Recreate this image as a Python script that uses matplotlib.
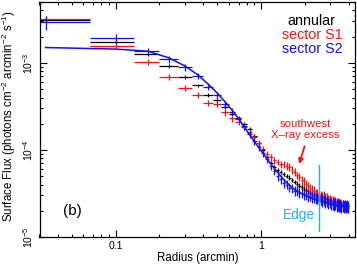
import matplotlib
matplotlib.use("Agg")
import matplotlib.pyplot as plt
import numpy as np
from matplotlib.ticker import FixedLocator, FixedFormatter, LogLocator, NullFormatter

plt.rcParams["font.family"] = ["Liberation Sans", "DejaVu Sans"]
plt.rcParams["mathtext.fontset"] = "custom"
plt.rcParams["mathtext.rm"] = "Liberation Sans"
plt.rcParams["mathtext.it"] = "Liberation Sans:italic"
plt.rcParams["mathtext.bf"] = "Liberation Sans:bold"

# bin centres in arcsec (4 arcsec wide annuli)
radius_arcsec = [2, 6, 10, 14, 18, 22, 26, 30, 34, 38, 42, 46, 50, 54, 58,
                 62, 66, 70, 74, 78, 82, 86, 90, 94, 98, 102, 106, 110, 114, 118,
                 122, 126, 130, 134, 138, 142, 146, 150, 154, 158, 162, 166, 170, 174, 178,
                 182, 186, 190, 194, 198, 202, 206, 210, 214, 218, 222, 226, 230, 234, 238]
bin_width_arcsec = 4.0

flux_annular = [3.09e-3, 1.74e-3, 1.25e-3, 9.2e-4, 6.9e-4, 5.5e-4, 4.3e-4, 3.7e-4, 3.1e-4, 2.6e-4,
                2.3e-4, 2.0e-4, 1.75e-4, 1.45e-4, 1.2e-4, 1.0e-4, 8.4e-5, 7.1e-5, 6.4e-5, 5.9e-5,
                5.6e-5, 5.3e-5, 5.0e-5, 4.8e-5, 4.5e-5, 4.3e-5, 4.1e-5, 3.9e-5, 3.75e-5, 3.6e-5,
                3.45e-5, 3.35e-5, 3.2e-5, 3.15e-5, 3.05e-5, 3.0e-5, 2.95e-5, 2.9e-5, 2.88e-5, 2.8e-5,
                2.78e-5, 2.72e-5, 2.7e-5, 2.64e-5, 2.62e-5, 2.61e-5, 2.56e-5, 2.55e-5, 2.5e-5, 2.5e-5,
                2.46e-5, 2.47e-5, 2.43e-5, 2.42e-5, 2.4e-5, 2.38e-5, 2.38e-5, 2.35e-5, 2.36e-5, 2.34e-5]
err_annular = [0.06, 0.05, 0.05, 0.05, 0.05, 0.05, 0.05, 0.05, 0.05, 0.05,
               0.05, 0.05, 0.05, 0.05, 0.05, 0.05, 0.05, 0.05, 0.06, 0.06,
               0.06, 0.06, 0.06, 0.06, 0.06, 0.06, 0.06, 0.06, 0.07, 0.07,
               0.07, 0.07, 0.07, 0.07, 0.07, 0.07, 0.07, 0.07, 0.08, 0.08,
               0.08, 0.08, 0.08, 0.08, 0.08, 0.08, 0.08, 0.08, 0.08, 0.08,
               0.08, 0.08, 0.08, 0.08, 0.08, 0.08, 0.08, 0.08, 0.08, 0.08]

flux_s1 = [3.18e-3, 1.57e-3, 1.03e-3, 6.9e-4, 5.2e-4, 4.3e-4, 3.5e-4, 3.35e-4, 2.7e-4, 2.3e-4,
           2.1e-4, 1.84e-4, 1.6e-4, 1.4e-4, 1.2e-4, 1.03e-4, 9.0e-5, 8.2e-5, 7.6e-5, 7.3e-5,
           6.9e-5, 6.9e-5, 6.6e-5, 6.4e-5, 5.9e-5, 5.6e-5, 5.1e-5, 4.9e-5, 4.5e-5, 4.35e-5,
           4.05e-5, 3.9e-5, 3.65e-5, 3.5e-5, 3.4e-5, 3.2e-5, 3.2e-5, 3.05e-5, 3.05e-5, 2.95e-5,
           2.95e-5, 2.85e-5, 2.8e-5, 2.7e-5, 2.7e-5, 2.6e-5, 2.62e-5, 2.52e-5, 2.55e-5, 2.46e-5,
           2.48e-5, 2.4e-5, 2.42e-5, 2.33e-5, 2.35e-5, 2.27e-5, 2.3e-5, 2.2e-5, 2.24e-5, 2.18e-5]
err_s1 = [0.10, 0.08, 0.08, 0.08, 0.08, 0.08, 0.08, 0.08, 0.08, 0.08,
          0.08, 0.08, 0.08, 0.08, 0.08, 0.08, 0.08, 0.09, 0.09, 0.09,
          0.09, 0.09, 0.10, 0.10, 0.10, 0.10, 0.10, 0.10, 0.11, 0.11,
          0.11, 0.11, 0.11, 0.12, 0.12, 0.12, 0.12, 0.12, 0.12, 0.12,
          0.13, 0.13, 0.13, 0.13, 0.13, 0.13, 0.13, 0.13, 0.13, 0.13,
          0.14, 0.14, 0.14, 0.14, 0.14, 0.14, 0.14, 0.14, 0.14, 0.14]

flux_s2 = [2.94e-3, 1.91e-3, 1.37e-3, 1.10e-3, 8.85e-4, 7.1e-4, 5.3e-4, 4.25e-4, 3.35e-4, 2.75e-4,
           2.28e-4, 1.86e-4, 1.52e-4, 1.26e-4, 1.07e-4, 9.2e-5, 7.8e-5, 6.6e-5, 5.8e-5, 5.0e-5,
           4.6e-5, 4.15e-5, 4.0e-5, 3.7e-5, 3.65e-5, 3.4e-5, 3.4e-5, 3.2e-5, 3.22e-5, 3.08e-5,
           3.08e-5, 2.96e-5, 2.98e-5, 2.86e-5, 2.88e-5, 2.76e-5, 2.8e-5, 2.7e-5, 2.72e-5, 2.62e-5,
           2.65e-5, 2.55e-5, 2.58e-5, 2.47e-5, 2.5e-5, 2.4e-5, 2.44e-5, 2.35e-5, 2.4e-5, 2.3e-5,
           2.35e-5, 2.28e-5, 2.33e-5, 2.26e-5, 2.32e-5, 2.25e-5, 2.3e-5, 2.24e-5, 2.3e-5, 2.25e-5]
err_s2 = [0.19, 0.11, 0.09, 0.09, 0.09, 0.09, 0.09, 0.09, 0.09, 0.09,
          0.09, 0.09, 0.09, 0.09, 0.10, 0.10, 0.10, 0.10, 0.11, 0.11,
          0.11, 0.11, 0.12, 0.12, 0.12, 0.12, 0.13, 0.13, 0.13, 0.13,
          0.13, 0.14, 0.14, 0.14, 0.14, 0.14, 0.14, 0.15, 0.15, 0.15,
          0.15, 0.15, 0.15, 0.15, 0.15, 0.15, 0.16, 0.16, 0.16, 0.16,
          0.16, 0.16, 0.16, 0.16, 0.16, 0.16, 0.16, 0.16, 0.16, 0.16]

# beta-model curve for sector S2
model_r = [0.033, 0.1, 0.167, 0.233, 0.3, 0.367, 0.433, 0.5, 0.567, 0.633, 0.7, 0.8, 0.9,
           1.0, 1.1, 1.2, 1.35, 1.5, 1.7, 2.0, 2.4, 2.8, 3.3, 3.97]
model_flux = [1.50e-3, 1.44e-3, 1.36e-3, 1.14e-3, 9.2e-4, 7.3e-4, 5.7e-4, 4.5e-4, 3.55e-4, 2.85e-4,
              2.3e-4, 1.65e-4, 1.25e-4, 9.8e-5, 7.9e-5, 6.5e-5, 5.1e-5, 4.2e-5, 3.5e-5, 3.0e-5,
              2.65e-5, 2.45e-5, 2.3e-5, 2.22e-5]

edge_r = 2.5
edge_span = [1.16e-5, 6.8e-5]

RED = "#ff1010"
BLUE = "#1010ff"
CYAN = "#20b0f0"

r = np.array(radius_arcsec) / 60.0
half = bin_width_arcsec / 2.0 / 60.0
lo = np.clip(r - half, 1e-3, None)
xerr = np.vstack([r - lo, np.full_like(r, half)])

fig = plt.figure(figsize=(3.57, 2.64), dpi=100)
ax = fig.add_axes([39.5 / 357, 1 - 237 / 264, 315.2 / 357, 235 / 264])

for flux, err, col in [(flux_annular, err_annular, "black"),
                       (flux_s1, err_s1, RED),
                       (flux_s2, err_s2, BLUE)]:
    f = np.array(flux)
    e = np.array(err) * f
    ax.errorbar(r, f, xerr=xerr, yerr=e, fmt="none", ecolor=col, elinewidth=0.9, capsize=0)

ax.plot(model_r, model_flux, color=BLUE, lw=1.1)

ax.plot([edge_r, edge_r], edge_span, color=CYAN, lw=1.0)
ax.text(0.823, 0.094, "Edge", color=CYAN, fontsize=9.8, ha="center", va="center",
        transform=ax.transAxes)

ax.set_xscale("log")
ax.set_yscale("log")
ax.set_xlim(0.03, 4.4)
ax.set_ylim(1e-5, 5e-3)

ax.xaxis.set_major_locator(FixedLocator([0.1, 1]))
ax.xaxis.set_major_formatter(FixedFormatter(["0.1", "1"]))
ax.xaxis.set_minor_locator(LogLocator(base=10, subs=np.arange(2, 10), numticks=20))
ax.xaxis.set_minor_formatter(NullFormatter())
ax.yaxis.set_minor_locator(LogLocator(base=10, subs=np.arange(2, 10), numticks=20))
ax.yaxis.set_minor_formatter(NullFormatter())

ax.tick_params(which="both", direction="in", top=True, right=True, width=0.8)
ax.tick_params(which="major", length=5, labelsize=7.5, pad=3)
ax.tick_params(which="minor", length=2.5)
for lab in ax.get_yticklabels():
    lab.set_rotation(90)
    lab.set_va("center")
for s in ax.spines.values():
    s.set_linewidth(0.9)

fig.text(8.5 / 357, 1 - 116 / 264,
         "Surface Flux (photons cm$^{-2}$ arcmin$^{-2}$ s$^{-1}$)",
         rotation=90, ha="center", va="center", fontsize=8.3)
fig.text(198 / 357, 1 - 258 / 264, "Radius (arcmin)", ha="center", va="center", fontsize=8.3)

ax.text(0.864, 0.920, "annular", color="black", fontsize=10.3, ha="center", va="center",
        transform=ax.transAxes)
ax.text(0.864, 0.860, "sector S1", color=RED, fontsize=10.3, ha="center", va="center",
        transform=ax.transAxes)
ax.text(0.864, 0.799, "sector S2", color=BLUE, fontsize=10.3, ha="center", va="center",
        transform=ax.transAxes)

ax.text(0.103, 0.111, "(b)", color="black", fontsize=11, ha="center", va="center",
        transform=ax.transAxes)

ax.text(2.01, 2.0e-4, "southwest", color=RED, fontsize=8.2, ha="center", va="center")
ax.text(2.01, 1.49e-4, "X\u2013ray excess", color=RED, fontsize=8.2, ha="center", va="center")
ax.annotate("", xy=(1.83, 6.9e-5), xytext=(1.99, 1.1e-4),
            arrowprops=dict(arrowstyle="-|>", color=RED, lw=1.3, mutation_scale=7,
                            shrinkA=0, shrinkB=0))

fig.savefig("out.png", dpi=100)
